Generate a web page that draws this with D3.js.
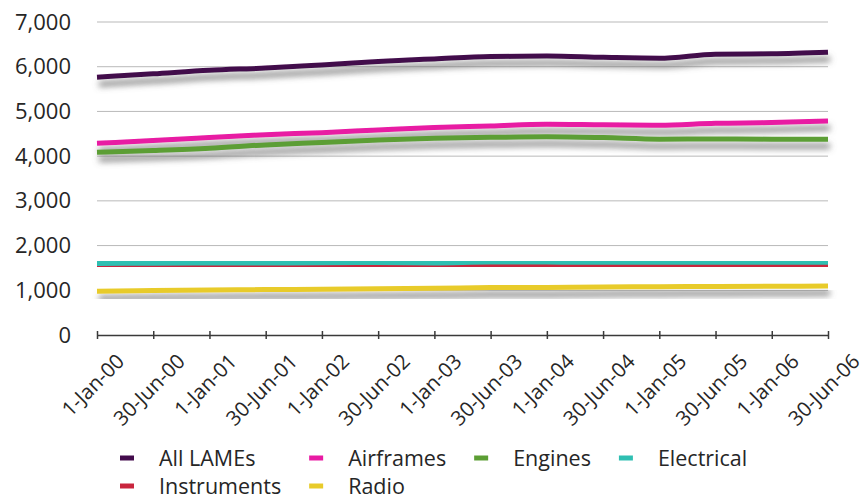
<!DOCTYPE html>
<html>
<head>
<meta charset="utf-8">
<script src="https://cdn.jsdelivr.net/npm/d3@7"></script>
<style>
  body { margin: 0; background: #fff; }
  text { font-family: "Open Sans", sans-serif; fill: #262626; }
</style>
</head>
<body>
<div id="chart"></div>
<script>
// Category labels along the x axis
const dates = ["1-Jan-00", "30-Jun-00", "1-Jan-01", "30-Jun-01", "1-Jan-02", "30-Jun-02", "1-Jan-03",
    "30-Jun-03", "1-Jan-04", "30-Jun-04", "1-Jan-05", "30-Jun-05", "1-Jan-06", "30-Jun-06"];

// Series values
const allLames    = [5765, 5840, 5920, 5970, 6040, 6115, 6175, 6230, 6240, 6210, 6190, 6280, 6290, 6325];
const airframes   = [4287, 4350, 4415, 4480, 4525, 4585, 4640, 4675, 4715, 4700, 4690, 4735, 4750, 4785];
const engines     = [4085, 4125, 4175, 4250, 4305, 4360, 4400, 4420, 4435, 4415, 4380, 4385, 4380, 4380];
const electrical  = [1600, 1605, 1610, 1610, 1615, 1620, 1610, 1630, 1630, 1625, 1625, 1625, 1625, 1625];
const instruments = [1555, 1560, 1565, 1565, 1570, 1570, 1560, 1570, 1570, 1565, 1560, 1560, 1560, 1560];
const radio       = [980, 995, 1005, 1015, 1025, 1035, 1045, 1060, 1065, 1075, 1080, 1085, 1090, 1095];

const yTicks = [0, 1000, 2000, 3000, 4000, 5000, 6000, 7000];

const seriesNames = ["All LAMEs", "Airframes", "Engines", "Electrical", "Instruments", "Radio"];
const seriesColors = ["#430b4c", "#e81aa3", "#5c9e34", "#2fbfb2", "#c9253d", "#e8cb2a"];

const width = 867, height = 502;
const margin = { top: 22, right: 39, bottom: 167, left: 97 };

const svg = d3.select("#chart").append("svg")
    .attr("width", width)
    .attr("height", height);

// Grey drop shadow under each line
const defs = svg.append("defs");
const shadow = defs.append("filter")
    .attr("id", "shadow")
    .attr("x", "-5%").attr("y", "-50%")
    .attr("width", "110%").attr("height", "300%");
shadow.append("feGaussianBlur").attr("in", "SourceAlpha").attr("stdDeviation", 3).attr("result", "blur");
shadow.append("feOffset").attr("in", "blur").attr("dx", 2).attr("dy", 7).attr("result", "off");
shadow.append("feFlood").attr("flood-color", "#666").attr("flood-opacity", 0.8);
shadow.append("feComposite").attr("in2", "off").attr("operator", "in").attr("result", "shade");
const merge = shadow.append("feMerge");
merge.append("feMergeNode").attr("in", "shade");
merge.append("feMergeNode").attr("in", "SourceGraphic");

const x = d3.scalePoint()
    .domain(dates)
    .range([margin.left, width - margin.right]);

const y = d3.scaleLinear()
    .domain([0, 7000])
    .range([height - margin.bottom, margin.top]);

// Horizontal gridlines
svg.append("g")
    .selectAll("line")
    .data(yTicks.filter(d => d > 0))
    .join("line")
    .attr("x1", margin.left)
    .attr("x2", width - margin.right)
    .attr("y1", d => y(d))
    .attr("y2", d => y(d))
    .attr("stroke", "#b9b9b9")
    .attr("stroke-width", 1);

// Y axis labels
const yAxis = d3.axisLeft(y)
    .tickValues(yTicks)
    .tickFormat(d3.format(","))
    .tickSize(0)
    .tickPadding(26);
const yAxisGroup = svg.append("g")
    .attr("transform", `translate(${margin.left},0)`)
    .call(yAxis);
yAxisGroup.select(".domain").remove();
yAxisGroup.selectAll("text")
    .style("font-family", "'Open Sans', sans-serif")
    .style("font-size", "22px")
    .style("fill", "#262626");

// X axis
const xAxis = d3.axisBottom(x)
    .tickSize(0)
    .tickFormat("");
const xAxisGroup = svg.append("g")
    .attr("transform", `translate(0,${y(0)})`)
    .call(xAxis);
xAxisGroup.select(".domain")
    .attr("stroke", "#3a3a3a")
    .attr("stroke-width", 1.5);
xAxisGroup.selectAll(".tick line")
    .attr("y1", -4)
    .attr("y2", 4)
    .attr("stroke", "#3a3a3a")
    .attr("stroke-width", 1.5);

// Rotated date labels, centred on the tick with their top edge just below the axis
const labelTop = y(0) + 17;
const xLabels = svg.append("g")
    .selectAll("text")
    .data(dates)
    .join("text")
    .attr("text-anchor", "middle")
    .attr("dy", "0.35em")
    .style("font-size", "20.5px")
    .text(d => d);
xLabels.attr("transform", function (d) {
    const len = this.getComputedTextLength();
    const cy = labelTop + (len / 2 + 8) * Math.SQRT1_2;
    return `translate(${x(d) - 4},${cy}) rotate(-45)`;
});

// Lines
const line = d3.line()
    .x((d, i) => x(dates[i]))
    .y(d => y(d))
    .curve(d3.curveMonotoneX);

const seriesValues = [allLames, airframes, engines, electrical, instruments, radio];
const drawOrder = [0, 1, 2, 4, 3, 5];

svg.append("g")
    .selectAll("path")
    .data(drawOrder)
    .join("path")
    .attr("d", i => line(seriesValues[i]))
    .attr("fill", "none")
    .attr("stroke", i => seriesColors[i])
    .attr("stroke-width", 5)
    .attr("filter", "url(#shadow)");

// Legend laid out as a grid of four columns
const legendCols = 4;
const legendX = 120, legendY = 458, rowGap = 28, colGap = 28, swatchW = 14, textGap = 25;

const legend = svg.append("g");
const items = legend.selectAll("g")
    .data(seriesNames)
    .join("g");
items.append("line")
    .attr("x1", 0).attr("x2", swatchW)
    .attr("y1", 0).attr("y2", 0)
    .attr("stroke", (d, i) => seriesColors[i])
    .attr("stroke-width", 5);
items.append("text")
    .attr("x", swatchW + textGap)
    .attr("dy", "0.35em")
    .style("font-size", "21.5px")
    .text(d => d);

const colWidths = d3.range(legendCols).map(() => 0);
items.each(function (d, i) {
    const w = swatchW + textGap + d3.select(this).select("text").node().getComputedTextLength();
    colWidths[i % legendCols] = Math.max(colWidths[i % legendCols], w);
});
const colStarts = [legendX];
for (let c = 1; c < legendCols; c++) colStarts.push(colStarts[c - 1] + colWidths[c - 1] + colGap);

items.attr("transform", (d, i) =>
    `translate(${colStarts[i % legendCols]},${legendY + Math.floor(i / legendCols) * rowGap})`);
</script>
</body>
</html>
